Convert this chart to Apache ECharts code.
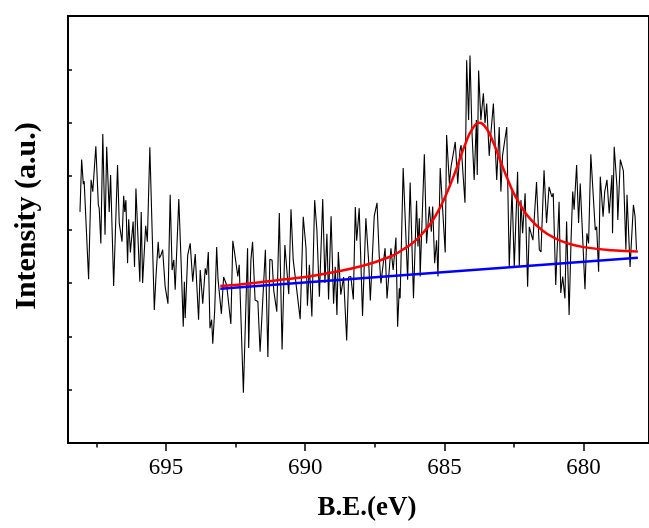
<!DOCTYPE html>
<html>
<head>
<meta charset="utf-8">
<script src="https://cdn.jsdelivr.net/npm/echarts@6/dist/echarts.min.js"></script>
<style>html,body{margin:0;padding:0;background:#fff}#c{width:649px;height:528px}</style>
</head>
<body>
<div id="c"></div>
<script>
// Binding energy (eV) of the measured spectrum
var be = [698.09,698.03,697.97,697.94,697.87,697.78,697.69,697.63,697.52,697.43,697.40,697.34,697.27,697.19,697.13,697.04,696.99,696.88,696.74,696.68,696.58,696.52,696.48,696.44,696.38,696.34,696.28,696.18,696.13,696.08,695.94,695.89,695.84,695.73,695.67,695.58,695.42,695.36,695.28,695.24,695.18,695.12,695.03,694.93,694.85,694.78,694.72,694.67,694.54,694.46,694.38,694.34,694.31,694.22,694.13,694.04,693.95,693.83,693.77,693.68,693.59,693.54,693.48,693.42,693.36,693.32,693.25,693.18,693.13,693.01,692.93,692.82,692.67,692.60,692.54,692.48,692.42,692.37,692.22,692.07,692.03,691.95,691.89,691.80,691.70,691.62,691.43,691.34,691.27,691.19,691.13,691.02,690.93,690.83,690.73,690.59,690.51,690.43,690.38,690.18,690.07,689.97,689.92,689.85,689.76,689.66,689.58,689.49,689.37,689.29,689.22,689.16,689.07,688.98,688.92,688.86,688.81,688.72,688.62,688.51,688.44,688.36,688.27,688.20,688.15,688.06,687.94,687.82,687.72,687.66,687.52,687.42,687.34,687.28,687.13,687.06,686.92,686.84,686.74,686.68,686.62,686.59,686.48,686.42,686.32,686.23,686.11,686.00,685.95,685.90,685.87,685.72,685.64,685.54,685.47,685.42,685.35,685.28,685.23,685.15,684.97,684.92,684.82,684.76,684.69,684.61,684.52,684.44,684.40,684.26,684.20,684.13,684.08,684.01,683.93,683.85,683.82,683.77,683.69,683.60,683.54,683.48,683.39,683.33,683.24,683.12,683.03,682.97,682.91,682.76,682.67,682.57,682.49,682.37,682.31,682.25,682.19,682.10,682.01,681.95,681.82,681.69,681.59,681.53,681.42,681.33,681.24,681.14,681.09,681.00,680.88,680.82,680.75,680.67,680.61,680.52,680.45,680.39,680.34,680.25,680.18,680.12,679.95,679.88,679.82,679.74,679.58,679.53,679.46,679.40,679.30,679.24,679.16,679.08,678.98,678.96,678.90,678.80,678.77,678.68,678.57,678.48,678.44,678.33,678.21,678.15,678.10];
// Measured intensity (a.u.)
var intensity = [4.33,5.31,4.85,4.91,4.93,3.07,4.93,4.71,5.56,4.46,4.40,3.74,5.79,3.90,5.55,4.33,5.02,2.94,5.21,4.12,3.77,4.63,4.33,4.55,3.37,4.19,3.57,4.15,3.30,4.77,3.02,4.33,3.00,4.07,3.77,5.54,2.49,3.12,3.77,3.46,3.52,3.62,2.93,2.61,4.65,3.24,3.43,2.87,4.57,3.43,2.18,3.02,2.34,3.52,3.74,3.02,3.54,2.31,3.24,2.61,3.27,3.15,3.58,2.15,2.31,1.86,2.49,3.67,3.06,2.42,3.11,2.96,2.23,3.79,3.58,3.56,3.12,3.34,0.94,3.65,1.78,3.43,3.77,2.68,2.65,1.71,3.62,1.61,3.44,3.43,2.86,2.46,4.31,1.75,3.71,2.79,4.38,3.43,3.46,2.32,4.24,3.65,2.57,3.34,2.37,4.55,3.99,2.74,4.57,3.00,3.92,2.69,4.25,2.61,3.30,2.40,3.58,2.78,3.11,1.92,3.11,3.12,2.69,4.42,3.79,4.40,2.38,4.21,3.40,2.67,4.25,4.50,3.50,2.99,3.65,2.71,3.65,3.24,3.85,2.18,2.90,2.71,5.15,5.18,3.06,4.88,2.71,4.54,3.68,4.21,3.12,5.41,3.74,4.43,3.96,4.43,3.37,3.80,3.12,5.15,3.57,5.77,4.86,5.18,5.39,5.64,4.86,5.49,5.58,4.50,7.17,6.05,7.26,5.83,4.93,6.05,5.02,6.98,6.05,6.55,5.99,6.36,5.38,5.80,6.36,4.93,5.92,4.71,5.39,5.92,3.30,4.74,3.30,5.08,3.30,4.55,3.93,4.68,2.93,4.05,3.80,4.89,3.62,3.58,5.11,4.12,4.80,4.61,4.68,2.96,4.52,2.81,3.12,2.71,4.15,2.40,3.80,4.71,4.37,5.21,4.12,4.86,2.88,3.93,3.74,5.41,3.99,4.05,3.21,4.99,4.24,4.71,4.93,4.30,5.02,3.93,5.55,4.80,4.18,5.31,5.10,3.62,4.65,3.30,4.46,4.24,3.62];
// Fitted peak (red)
var fitBE = [693.05,692,691,690,689,688,687,686.5,686,685.5,685.25,685,684.75,684.5,684.25,684,683.75,683.5,683.25,683,682.75,682.5,682.25,682,681.5,681,680.5,680,679,678.05];
var fitI  = [2.94,2.99,3.05,3.11,3.20,3.31,3.48,3.62,3.81,4.11,4.32,4.58,4.89,5.24,5.60,5.88,6.00,5.90,5.64,5.30,4.97,4.67,4.44,4.25,3.99,3.83,3.73,3.67,3.61,3.59];
// Background (blue)
var bgBE = [693.05,678.05];
var bgI  = [2.89,3.47];
// Tick positions
var majorTicks = [695,690,685,680];
var minorTicks = [697.5,692.5,687.5,682.5];

function zip(a,b){var r=[];for(var i=0;i<a.length;i++)r.push([a[i],b[i]]);return r;}

var chart = echarts.init(document.getElementById('c'), null, {renderer:'canvas'});
var xmin = 677.65, xmax = 698.52;
chart.setOption({
  animation:false,
  backgroundColor:'#fff',
  grid:{left:68, top:16, right:0, bottom:85, show:true, borderColor:'#000', borderWidth:2, containLabel:false},
  xAxis:[{
    type:'value', min:xmin, max:xmax, inverse:true, position:'bottom',
    axisLine:{show:true, onZero:false, lineStyle:{color:'#000', width:2}},
    axisTick:{show:true, inside:false, length:8, lineStyle:{color:'#000', width:1.5}, customValues:majorTicks},
    axisLabel:{show:true, margin:13, color:'#000', fontFamily:'Liberation Serif', fontSize:23, customValues:majorTicks},
    splitLine:{show:false}
  },{
    type:'value', min:xmin, max:xmax, inverse:true, position:'bottom',
    axisLine:{show:false, onZero:false},
    axisTick:{show:true, inside:false, length:4.5, lineStyle:{color:'#000', width:1.5}, customValues:minorTicks},
    axisLabel:{show:false},
    splitLine:{show:false}
  }],
  yAxis:{
    type:'value', min:0, max:8, interval:1,
    axisLine:{show:true, lineStyle:{color:'#000', width:2}},
    axisTick:{show:true, inside:true, length:4, lineStyle:{color:'#000', width:1.5}},
    axisLabel:{show:false},
    splitLine:{show:false}
  },
  graphic:[
    {type:'text', x:367, y:508, style:{text:'B.E.(eV)', align:'center', verticalAlign:'middle', font:'bold 27px "Liberation Serif"', fill:'#000'}},
    {type:'text', rotation:Math.PI/2, x:27, y:216, style:{text:'Intensity (a.u.)', align:'center', verticalAlign:'middle', font:'bold 30px "Liberation Serif"', fill:'#000'}}
  ],
  series:[
    {type:'line', xAxisIndex:0, data:zip(be,intensity), showSymbol:false, symbol:'none', lineStyle:{color:'#000', width:1.1}, z:2},
    {type:'line', xAxisIndex:0, data:zip(bgBE,bgI), showSymbol:false, symbol:'none', lineStyle:{color:'#0000ff', width:2.5}, z:3},
    {type:'line', xAxisIndex:0, data:zip(fitBE,fitI), smooth:true, showSymbol:false, symbol:'none', lineStyle:{color:'#ff0000', width:2.5}, z:4}
  ]
});
</script>
</body>
</html>
